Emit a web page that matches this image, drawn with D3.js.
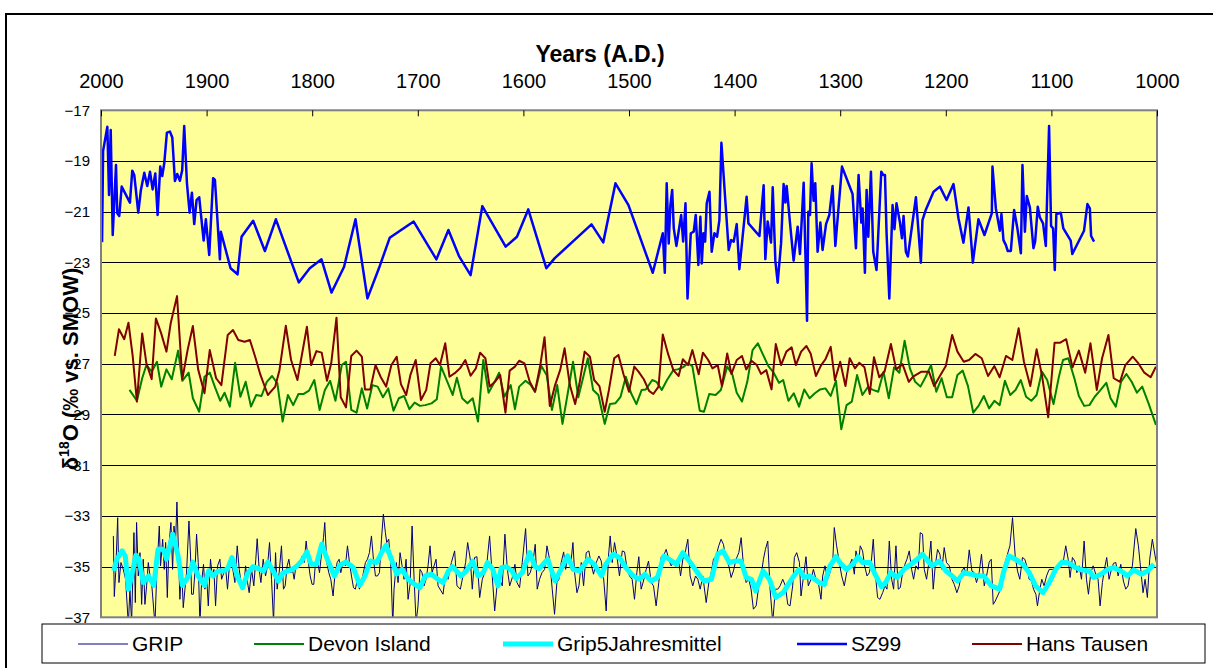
<!DOCTYPE html>
<html>
<head>
<meta charset="utf-8">
<script src="https://d3js.org/d3.v7.min.js"></script>
<style>
  body { margin: 0; background: #fff; }
  svg { font-family: "Liberation Sans", Arial, sans-serif; }
</style>
</head>
<body>
<svg id="chart" width="1213" height="668"></svg>
<script>
// tick labels
const xTickYears = [2000, 1900, 1800, 1700, 1600, 1500, 1400, 1300, 1200, 1100, 1000];
const yTickValues = [-17, -19, -21, -23, -25, -27, -29, -31, -33, -35, -37];
const seriesNames = ["GRIP", "Devon Island", "Grip5Jahresmittel", "SZ99", "Hans Tausen"];

// [year, d18O]
const grip = [
  [1988.3,-33.79],[1987.4,-36.18],[1986.1,-35.24],[1984.2,-33.07],[1983,-35.63],[1981.1,-34.84],[1978.9,-35.11],[1976.7,-35.5],
  [1974.1,-37.3],[1972.6,-35.89],[1971,-37.2],[1968.8,-33.66],[1967.5,-36.42],[1966.3,-33.26],[1964.7,-35.37],[1963.1,-34.45],
  [1961.5,-36.49],[1960,-34.71],[1958.4,-36.49],[1956.8,-35.76],[1955.2,-34.84],[1953.6,-35.37],[1952.1,-35.63],[1948.9,-37.3],
  [1947.3,-35.37],[1944.8,-33.4],[1943.6,-34.97],[1941.6,-33.92],[1940.1,-35.11],[1938.8,-34.05],[1937.2,-36.22],[1935.7,-34.18],
  [1933.8,-33.26],[1932.2,-35.11],[1930.9,-33.4],[1929.4,-34.05],[1928.1,-32.45],[1926.8,-34.18],[1925.3,-36.29],[1923.7,-34.97],
  [1922.1,-36.62],[1920.5,-35.89],[1919,-35.24],[1916.7,-33.2],[1915.2,-34.58],[1914.2,-36.09],[1912.6,-36.09],[1911.1,-35.24],
  [1909.5,-33.72],[1907.9,-34.84],[1906.3,-37.3],[1904.8,-35.63],[1902.9,-34.91],[1901.6,-35.89],[1900,-35.37],[1898.4,-36.55],
  [1896.3,-34.71],[1894.7,-35.37],[1893.1,-35.11],[1891.5,-36.55],[1889.6,-34.97],[1887.4,-34.71],[1885.8,-35.5],[1883.6,-35.24],
  [1882,-35.04],[1880.2,-35.89],[1877.9,-34.71],[1875.7,-34.97],[1873.2,-35.63],[1871,-34.18],[1869.1,-35.11],[1866.9,-35.76],
  [1865,-35.89],[1863.1,-34.97],[1861.2,-35.63],[1859.7,-36.03],[1857.4,-35.11],[1855.3,-35.76],[1853.4,-34.71],[1852.1,-33.9],
  [1850.2,-35.11],[1848.6,-35.63],[1846.4,-34.71],[1844.2,-35.37],[1842.3,-34.97],[1840.4,-34.05],[1838.5,-35.5],[1836.6,-37.2],
  [1834.7,-34.45],[1833.2,-35.89],[1831.3,-35.24],[1829.1,-34.18],[1827.2,-35.89],[1825.6,-35.76],[1823.7,-34.97],[1822.1,-34.71],
  [1820.2,-35.24],[1818.7,-35.11],[1817.1,-35.5],[1815.2,-34.91],[1813.3,-34.97],[1811.4,-34.84],[1809.5,-34.58],[1807.6,-34.84],
  [1805.7,-33.99],[1803.8,-34.78],[1801.9,-35.37],[1800.1,-35.7],[1798.5,-35.7],[1796.9,-34.84],[1795,-34.78],[1793.1,-35.24],
  [1791.2,-34.51],[1789.3,-33.86],[1788.1,-33.26],[1786.2,-34.84],[1784.3,-35.24],[1782.4,-35.5],[1780.2,-36.16],[1778.6,-35.37],
  [1776.4,-34.84],[1774.5,-34.71],[1772.9,-35.24],[1770.7,-34.78],[1768.5,-34.97],[1766.6,-34.18],[1764.7,-34.84],[1762.8,-35.37],
  [1760.9,-35.83],[1759.1,-35.89],[1757.2,-35.5],[1755.3,-35.89],[1753.4,-35.63],[1751.5,-35.24],[1749.6,-34.84],[1747.7,-34.71],
  [1745.8,-34.45],[1743.9,-33.79],[1742,-34.71],[1740.1,-35.37],[1738.2,-35.37],[1736.3,-35.24],[1734.4,-33.92],[1732.6,-32.93],
  [1730.7,-33.66],[1729.4,-34.05],[1727.5,-33.92],[1725.6,-34.91],[1723.7,-37.3],[1722.5,-35.89],[1720.3,-34.84],[1718.7,-35.63],
  [1716.8,-34.45],[1714.9,-34.97],[1713,-35.5],[1711.1,-34.71],[1709.2,-36.29],[1707.3,-35.7],[1705.4,-33.4],[1703.5,-35.5],
  [1701.6,-37.2],[1699.8,-36.55],[1697.9,-35.11],[1696,-35.24],[1694.1,-35.76],[1692.2,-35.5],[1690.3,-34.97],[1688.4,-34.18],
  [1686.5,-35.24],[1684.6,-34.97],[1682.7,-34.71],[1680.8,-35.76],
  [1676.1,-36.09],[1673.6,-35.24],[1671.4,-35.5],[1668.2,-34.84],[1665.1,-34.38],[1662.9,-35.76],[1659.7,-35.89],[1657.2,-35.37],
  [1654.7,-34.84],[1652.8,-34.05],[1650.3,-34.71],[1648.4,-35.89],[1646.2,-34.64],[1644,-34.61],[1641.4,-36.22],[1638.9,-35.5],
  [1636.7,-35.24],[1634.5,-34.84],[1632,-33.79],[1629.4,-35.43],[1627.2,-36.75],[1625,-35.76],[1622.5,-35.5],[1620,-35.76],
  [1617.5,-33.72],[1615.2,-35.11],[1613,-35.76],[1610.5,-35.43],[1608,-34.91],[1606.1,-35.63],[1603.6,-35.83],[1601.1,-34.84],
  [1597.9,-33.5],[1595.7,-35.37],[1593.5,-35.24],[1591,-34.84],[1588.8,-34.12],[1586.9,-35.89],[1584.7,-35.5],[1582.4,-35.24],
  [1579.9,-35.11],[1577.7,-34.18],[1575.2,-34.71],[1572.7,-35.89],[1570.5,-36.88],[1568.3,-35.63],[1566.4,-35.5],[1564.2,-34.84],
  [1561.9,-34.42],[1560,-35.11],[1557.8,-34.51],[1555.3,-34.97],[1553.1,-34.05],[1551.5,-35.24],[1549.3,-36.03],[1547.4,-35.76],
  [1545.2,-34.84],[1543,-35.76],[1540.5,-34.45],[1538,-34.38],[1535.8,-34.91],[1533.6,-35.3],[1531,-34.84],[1528.5,-34.58],
  [1526.3,-34.78],[1524.1,-35.43],[1521.6,-36.75],[1519.4,-34.58],[1517.8,-33.79],[1515.9,-34.84],[1513.7,-34.05],[1511.5,-34.58],
  [1509,-35.37],[1506.4,-34.38],[1504.2,-34.42],[1502,-35.04],[1499.5,-35.37],[1497,-35.5],[1494.8,-36.29],[1492.6,-35.24],
  [1490.7,-34.61],[1488.5,-35.89],[1486.3,-35.57],[1483.7,-35.11],[1481.5,-34.78],[1479,-35.63],[1476.8,-35.76],[1474.3,-36.55],
  [1471.8,-35.63],[1469.5,-34.61],[1467.3,-34.58],[1464.8,-34.32],[1462.3,-34.71],[1460.1,-34.97],[1457.9,-34.84],[1455.3,-35],
  [1453.1,-34.74],[1451.2,-35.37],[1449,-34.71],[1446.5,-34.38],[1444.3,-33.92],[1442.1,-35.37],[1439.6,-35.76],[1437,-35.37],
  [1434.8,-35.5],[1432.6,-35.89],[1430.1,-35.37],[1426.9,-36.42],[1424.4,-35.63],[1422.2,-35.24],[1420,-34.71],[1417.5,-34.58],
  [1415,-34.18],[1412.8,-33.92],[1410.6,-34.12],[1408,-34.71],[1405.5,-34.97],[1403.3,-35.43],[1401.1,-35.17],[1398.6,-34.71],
  [1396,-34.45],[1393.8,-33.86],[1391.6,-34.97],[1389.1,-35.63],[1386.6,-35.5],[1384.4,-35.89],[1382.2,-36.68],[1379.6,-36.55],
  [1377.1,-35.76],[1374.9,-35.37],[1372.7,-34.71],[1370.8,-34.32],[1368.6,-33.99],[1366.4,-35.89],[1363.9,-37.2],[1361.4,-35.89],
  [1359.1,-35.89],[1356.9,-35.76],[1354.4,-35.5],[1351.9,-35.76],[1349.7,-36.49],[1347.5,-36.55],[1345,-35.76],[1343.4,-34.64],
  [1341.2,-34.45],[1338.6,-34.84],
  [1337.1,-36.16],[1334.9,-35.43],[1332.4,-34.61],[1330.2,-35.76],[1327.6,-35.5],[1325.4,-35.11],[1322.9,-35.5],[1320.7,-35.63],
  [1318.2,-36.29],[1316.6,-35.37],[1314.4,-34.97],[1311.9,-35.5],[1309.7,-35.24],[1307.1,-34.84],[1305.6,-33.46],[1303.4,-34.18],
  [1300.8,-34.84],[1298.6,-35.37],[1296.1,-35.76],[1293.9,-35.24],[1291.4,-34.97],[1288.9,-34.71],[1286.6,-35.3],[1285.1,-34.38],
  [1282.5,-34.78],[1281,-34.18],[1278.8,-34.38],[1276.9,-34.97],[1274.6,-35.37],[1272.4,-35.24],[1270.6,-34.84],[1268.7,-33.92],
  [1266.8,-35.24],[1264.6,-36.22],[1262.4,-36.29],[1259.8,-36.03],[1257.6,-35.76],[1255.7,-35.89],[1253.5,-33.99],[1251.3,-35.5],
  [1249.4,-35.89],[1247.2,-34.18],[1245,-35.89],[1243.1,-35.83],[1240.9,-35.24],[1238.7,-34.91],[1236.8,-34.71],[1234.6,-34.38],
  [1232.4,-35.11],[1230.5,-35.5],[1228.3,-34.97],[1226.1,-35.11],[1224.2,-33.66],[1222,-33.72],[1220.4,-35.11],[1218.2,-35.5],
  [1216.3,-34.91],[1214.1,-33.99],[1211.9,-35.89],[1210,-34.97],[1207.8,-34.32],[1205.6,-34.51],[1203.7,-35.11],[1201.5,-34.25],
  [1199.3,-34.84],[1196.7,-34.97],[1194.2,-35.5],[1192,-35.7],[1189.5,-36.03],[1187.3,-35.76],[1184.8,-35.17],[1182.6,-35.04],
  [1180.3,-35.37],[1177.8,-34.34],[1175.3,-35.17],[1173.1,-35.24],[1170.9,-35.63],[1168.4,-35.24],[1166.2,-34.51],[1163.6,-35.76],
  [1161.4,-35.37],[1158.9,-34.82],[1157,-34.71],[1155.1,-36.49],[1153.2,-36.36],[1151,-36.16],[1148.8,-35.96],[1146.3,-35.37],
  [1143.8,-34.84],[1141.6,-34.51],[1139.3,-34.18],[1136.8,-33.07],[1134.3,-34.58],[1132.1,-35.17],[1129.9,-35.5],[1127.4,-34.64],
  [1125.2,-34.71],[1123.3,-34.97],[1121.1,-35.5],[1118.8,-35.57],[1116.9,-35.89],[1114.7,-36.09],[1113.2,-36.55],[1110.9,-35.89],
  [1109.1,-35.5],[1106.9,-35.76],[1104.6,-35.37],[1102.1,-35.11],[1099,-35.11],[1095.8,-35.04],[1093.3,-35],[1091.1,-35],
  [1088.9,-34.84],[1086.4,-34.18],[1084.1,-34.71],[1082.3,-35.43],[1080.1,-34.64],[1077.8,-34.78],[1075.9,-35.24],[1073.7,-34.97],
  [1071.5,-35.5],[1069,-33.99],[1066.8,-35.5],[1064.9,-36.09],[1062.7,-35.24],[1060.5,-34.97],[1058,-35.3],[1055.8,-35.5],
  [1053.9,-36.55],[1051.7,-35.63],[1049.5,-35.04],[1047.6,-34.64],[1045.4,-35.5],[1043.2,-35.11],[1041.2,-34.87],[1039,-34.84],
  [1036.8,-35.37],[1034.3,-34.91],[1031.8,-35.57],[1029.6,-35.89],[1027.4,-35.76],[1025.5,-35.24],[1023.3,-34.97],[1020.1,-33.5],
  [1017.6,-34.18],[1015.4,-35.11],[1013.2,-36.03],[1011.3,-35.5],[1009.1,-36.22],[1006.9,-34.71],[1004.4,-33.92],[1001.8,-34.58],
  [1000.3,-34.9]
];

const devonIsland = [
  [1973,-28.03],[1966,-28.46],[1961,-27.57],[1957,-27.05],[1952,-27.31],[1947,-26.92],[1943,-27.9],[1938,-27.22],[1933,-27.61],[1927,-26.48],
  [1923,-27.67],[1917,-27.35],[1913,-28.36],[1907,-28.89],[1902,-27.51],[1897,-27.35],[1892,-27.93],[1887,-28.46],[1883,-28.14],[1878,-28.69],
  [1873,-26.96],[1868,-28.3],[1863,-27.71],[1858,-28.69],[1853,-28.23],[1848,-28.27],[1843,-27.71],[1838,-27.48],[1833,-27.77],[1828,-29.28],
  [1823,-28.23],[1818,-28.63],[1813,-28.19],[1808,-28.19],[1803,-28.06],[1798,-27.64],[1793,-28.82],[1788,-28.03],[1783,-27.67],[1778,-28.46],
  [1772,-27.05],[1768,-26.92],[1763,-28.82],[1758,-28.93],[1753,-27.97],[1748,-28.76],[1743,-27.84],[1738,-27.9],[1733,-28.32],[1728,-27.97],
  [1723,-28.85],[1718,-28.36],[1713,-28.27],[1708,-28.79],[1703,-28.53],[1698,-28.66],[1693,-28.63],[1687,-28.56],[1682,-28.4],[1678,-27.11],
  [1672,-27.71],[1667,-28.23],[1663,-27.55],[1658,-28.36],[1653,-28.56],[1648,-28.36],[1643,-29.28],[1638,-26.85],[1633,-28.14],[1628,-27.77],
  [1623,-27.35],[1618,-28.3],[1612,-27.84],[1608,-28.79],[1604,-27.9],[1598,-27.67],[1593,-27.84],[1589,-28.1],[1583,-27.09],[1578,-27.44],
  [1573,-28.82],[1568,-27.84],[1563,-29.37],[1558,-28.16],[1553,-26.92],[1548,-28.32],[1544,-27.64],[1539,-26.78],[1534,-28.03],[1529,-28.23],
  [1523,-29.37],[1518,-28.59],[1513,-28.56],[1508,-28.3],[1503,-27.51],[1498,-28.16],[1493,-28.59],[1488,-28.03],[1484,-28.01],[1478,-27.64],
  [1474,-27.71],[1469,-28.03],[1464,-27.64],[1458,-27.25],[1454,-27.22],[1449,-27.14],[1444,-26.98],[1440,-27.09],[1433,-28.85],[1429,-28.89],
  [1424,-28.19],[1418,-28.23],[1413,-28.03],[1407,-27.11],[1402,-27.44],[1398,-28.14],[1393,-28.49],[1388,-27.71],[1383,-26.46],[1378,-26.19],
  [1373,-26.65],[1368,-27.09],[1363,-27.35],[1358,-27.75],[1354,-27.64],[1349,-28.46],[1344,-28.16],[1339,-28.69],[1334,-28.01],[1329,-28.36],
  [1324,-28.16],[1319,-28.01],[1314,-27.97],[1309,-28.27],[1304,-27.67],[1299,-29.58],[1294,-28.63],[1289,-28.49],[1284,-27.44],[1279,-28.23],
  [1274,-27.93],[1269,-28.03],[1264,-28.1],[1259,-27.31],[1254,-28.36],[1249,-27.14],[1244,-27.35],[1239,-26.09],[1234,-27.18],[1229,-27.71],
  [1224,-27.9],[1219,-27.51],[1214,-27.05],[1209,-28.1],[1204,-27.57],[1199,-28.32],[1194,-28.32],[1189,-27.44],[1184,-27.27],[1179,-27.88],
  [1174,-28.93],[1169,-28.66],[1164,-28.27],[1159,-28.76],[1154,-28.46],[1149,-28.63],[1144,-27.67],[1139,-28.23],[1134,-28.03],[1129,-27.64],
  [1124,-28.3],[1119,-28.46],[1114,-28.23],[1109,-27.31],[1104,-27.64],[1098,-28.59],[1093,-27.53],[1089,-26.85],[1084,-26.78],[1078,-27.61],
  [1074,-28.27],[1069,-28.66],[1064,-28.63],[1059,-28.3],[1054,-28.06],[1048,-27.75],[1044,-28.36],[1039,-28.69],[1034,-27.71],[1029,-27.4],
  [1024,-27.71],[1019,-28.14],[1014,-27.9],[1008,-28.56],[1001,-29.41]
];

const gripMean = [
  [1988,-35.17],[1985,-34.71],[1980,-34.38],[1977,-34.58],[1974,-35.89],[1971,-35.37],[1967,-34.55],[1964,-34.71],[1960,-35.63],[1955,-35.37],
  [1950,-35.74],[1946,-34.32],[1941,-34.32],[1938,-34.71],[1932,-33.72],[1927,-34.58],[1923,-35.74],[1917,-35.37],[1913,-34.82],[1908,-35.37],
  [1902,-35.74],[1898,-35.17],[1894,-35.37],[1889,-35.17],[1884,-35.17],[1880,-35.08],[1876,-34.64],[1871,-35.37],[1866,-35.83],[1861,-35.26],
  [1856,-35],[1851,-35.08],[1846,-35.17],[1842,-34.82],[1837,-35.17],[1832,-35.57],[1828,-35.26],[1823,-35.17],[1819,-35.11],[1815,-35],
  [1810,-34.78],[1805,-34.42],[1801,-34.91],[1796,-34.91],[1791,-34.12],[1785,-34.78],[1779,-35.37],[1774,-34.95],[1768,-34.82],[1761,-35.04],
  [1755,-35.74],[1750,-35.37],[1745,-34.78],[1739,-34.84],[1734,-34.42],[1730,-34.16],[1725,-34.71],[1720,-35.3],[1715,-35.11],[1709,-35.5],
  [1703,-35.7],[1698,-35.83],[1693,-35.37],[1687,-35.3],[1681,-35.5],[1676,-35.63],[1671,-35.17],[1667,-35],[1659,-35.37],[1654,-35.17],
  [1648,-34.78],[1643,-35.37],[1638,-35.24],[1634,-34.84],[1629,-35.11],[1624,-35.76],[1621,-35.04],[1616,-35],[1611,-35.17],[1607,-35.47],
  [1601,-35.24],[1594,-34.45],[1589,-35],[1585,-35.08],[1577,-34.71],[1570,-35.57],[1566,-35.24],[1558,-34.58],[1553,-35.11],[1547,-35.17],
  [1542,-34.91],[1539,-34.71],[1533,-34.91],[1526,-35.37],[1522,-34.91],[1515,-34.51],[1509,-34.64],[1503,-35.04],[1496,-35.37],[1490,-35.5],
  [1485,-35.3],[1479,-35.57],[1473,-35.43],[1467,-34.58],[1462,-34.71],[1455,-34.91],[1449,-34.45],[1443,-34.78],[1435,-35.24],[1429,-35.57],
  [1422,-35.5],[1416,-34.51],[1411,-34.38],[1405,-34.84],[1399,-34.78],[1394,-34.78],[1389,-35.43],[1384,-35.5],[1380,-35.96],[1373,-35.17],
  [1367,-35.5],[1361,-36.22],[1354,-36.03],[1350,-35.76],[1345,-35.43],[1339,-35.11],[1334,-35.43],[1329,-35.37],[1324,-35.5],[1320,-35.63],
  [1315,-35.7],[1310,-35],[1304,-34.61],[1299,-34.91],[1294,-35.11],[1288,-34.91],[1283,-34.61],[1279,-34.84],[1272,-34.84],[1267,-35.3],
  [1261,-35.79],[1257,-35.63],[1252,-35.24],[1246,-35.43],[1239,-35.08],[1233,-34.91],[1227,-34.71],[1222,-34.51],[1217,-34.78],[1213,-34.97],
  [1206,-34.78],[1200,-35.17],[1194,-35.37],[1189,-35.57],[1183,-35.24],[1176,-35.3],[1170,-35.37],[1164,-35.37],[1157,-35.76],[1149,-35.89],
  [1145,-35.17],[1140,-34.58],[1134,-34.71],[1127,-34.91],[1121,-35.24],[1115,-35.76],[1108,-36.03],[1102,-35.63],[1096,-35.11],[1090,-34.82],
  [1083,-34.87],[1077,-35.04],[1071,-35.13],[1064,-35.17],[1060,-35.43],[1053,-35.3],[1047,-35.11],[1041,-35.04],[1034,-35.17],[1028,-35.37],
  [1022,-35.13],[1015,-35.3],[1009,-35.17],[1003,-34.91]
];

const sz99 = [
  [1999,-22.2],[1998,-18.6],[1994,-17.65],[1992.4,-20.34],[1990.8,-17.78],[1988.9,-21.92],[1985.8,-19.16],[1984.6,-21.06],[1982.7,-21.17],[1980.4,-20.01],
  [1972.6,-20.64],[1970.4,-19.38],[1968.5,-19.55],[1964.7,-21.04],[1962.2,-20.14],[1959,-19.46],[1956.2,-19.99],[1953.6,-19.42],[1951.1,-20.12],[1948.6,-19.49],
  [1946.4,-21.13],[1943.9,-19.22],[1942,-19.59],[1940.1,-19.09],[1937.6,-17.88],[1934.7,-17.84],[1932.5,-18.07],[1930,-19.79],[1927.8,-19.51],[1925.3,-19.78],
  [1923.1,-19.36],[1921.2,-17.62],[1918.6,-19.88],[1916.1,-21.04],[1913.9,-20.25],[1911.7,-21.49],[1909.5,-20.54],[1907,-20.43],[1902.8,-22.14],[1900.7,-21.3],
  [1897.5,-22.71],[1893.8,-19.68],[1892.1,-19.75],[1887.4,-22.88],[1886.5,-21.79],[1877.3,-23.23],[1870.7,-23.47],[1866.9,-21.99],[1855.9,-21.36],[1844.8,-22.55],
  [1834.4,-21.3],[1812.7,-23.79],[1802.3,-23.23],[1791.2,-22.88],[1781.7,-24.19],[1769.8,-23.17],[1759,-21.3],[1747.7,-24.42],[1736,-23.14],[1726.6,-22.03],
  [1703.9,-21.39],[1682.4,-22.88],[1671,-21.72],[1661,-22.75],[1650,-23.5],[1638.9,-20.78],[1616.8,-22.38],[1606.1,-21.99],[1595.4,-20.91],[1578.3,-23.23],
  [1570.5,-22.84],[1535.5,-21.5],[1524.4,-22.21],[1512.8,-19.88],[1500.5,-20.74],[1477.5,-23.41],[1468,-21.85],[1466.1,-23.41],[1464.3,-19.88],[1462.4,-22.25],
  [1460.8,-20.74],[1459.1,-20.14],[1457.6,-21.66],[1455.1,-22.35],[1450.6,-21.13],[1448.7,-22.18],[1446.5,-20.67],[1444.6,-24.42],[1441.5,-21.85],[1438.7,-21.79],
  [1436.8,-21.13],[1434.3,-23.1],[1432.4,-21.2],[1431.1,-23.04],[1429.5,-21.85],[1427.9,-22.18],[1426.4,-20.67],[1423.8,-20.21],[1421.7,-22.58],[1419.1,-21.85],
  [1416.6,-21.99],[1414.4,-21.33],[1412.5,-18.28],[1405.6,-22.51],[1403.3,-22.12],[1400.8,-22.18],[1398,-21.49],[1395.5,-23.27],[1388.6,-20.41],[1386.9,-21.46],
  [1376.5,-21.96],[1372.5,-19.96],[1370.9,-22.87],[1368.7,-21.39],[1365.5,-22.22],[1363.9,-20.04],[1361.4,-22.94],[1359.2,-23.8],[1356,-22.25],[1353.6,-19.91],
  [1351.9,-20.64],[1350.7,-19.99],[1347.5,-21.46],[1344.1,-22.93],[1340.3,-21.59],[1338.1,-22.67],[1334.6,-19.86],[1331.4,-25.3],[1330.2,-21],[1328.6,-21.13],
  [1327.1,-19.09],[1325.2,-20.57],[1323.6,-19.88],[1321.4,-22.58],[1318.8,-21.43],[1316.7,-22.51],[1313.4,-21.49],[1310.3,-21.13],[1307.2,-19.99],[1304.6,-22.35],
  [1298.3,-19.22],[1288.3,-20.3],[1285.1,-22.44],[1282.6,-19.55],[1280,-21.43],[1278.8,-20.87],[1276.6,-23.41],[1275,-20.14],[1273.4,-21.99],[1270.9,-19.42],
  [1268.7,-22.58],[1265.6,-23.3],[1261.1,-19.42],[1259.3,-19.55],[1257.6,-19.55],[1256.1,-21.83],[1253.5,-24.42],[1250.4,-20.74],[1248.6,-21.69],[1246.7,-20.67],
  [1243.4,-21.43],[1241.5,-22.05],[1240,-21.17],[1237.8,-22.58],[1235.9,-22.77],[1228.3,-20.43],[1223.6,-23.01],[1222.1,-21.33],[1218.8,-20.91],[1211.6,-20.21],
  [1205.6,-20.01],[1199.3,-20.54],[1192.7,-19.91],[1188,-21.26],[1183.3,-22.22],[1178.5,-20.83],[1174.4,-23.01],[1169.1,-21.3],[1163.4,-21.92],[1156.4,-21.06],
  [1155.8,-19.22],[1152.6,-20.87],[1148.8,-21.75],[1147.3,-21.09],[1145.4,-22.12],[1143.1,-22.32],[1141.3,-22.55],[1138.4,-22.55],[1135.3,-20.93],[1132.2,-21.66],
  [1128.9,-22.64],[1127.4,-19.16],[1125.1,-21.79],[1123.3,-20.38],[1120.4,-20.83],[1117,-22.44],[1115.4,-22.18],[1112.9,-20.8],[1111,-21.22],[1107.9,-21.46],
  [1105.3,-22.35],[1102.2,-17.62],[1100.3,-21.56],[1098.4,-21.66],[1096.8,-23.3],[1095.3,-21.09],[1091.1,-21.04],[1088.7,-21.66],[1081.7,-22.14],[1080.2,-22.67],
  [1069.1,-21.75],[1065.9,-20.7],[1063.6,-20.87],[1062.4,-21.96],[1059.6,-22.18]
];

const hansTausen = [
  [1987,-26.69],[1983,-25.64],[1978,-26.03],[1974,-25.38],[1970,-26.69],[1966,-28.49],[1961,-25.8],[1957,-26.98],[1952,-27.61],[1948,-25.21],
  [1943,-25.8],[1938,-26.52],[1934,-25.4],[1928,-24.33],[1923,-27.61],[1918,-26.46],[1913,-25.51],[1908,-27.22],[1902,-28.16],[1897,-26.46],
  [1891,-27.57],[1886,-27.84],[1880,-25.86],[1875,-25.67],[1870,-26.06],[1864,-26.13],[1859,-26.06],[1854,-26.72],[1849,-27.44],[1842,-28.23],
  [1835,-27.9],[1831,-27.25],[1825,-25.5],[1820,-26.85],[1814,-27.64],[1805,-25.54],[1801,-27.05],[1796,-26.5],[1791,-26.56],[1786,-27.67],
  [1782,-26.98],[1777,-25.18],[1773,-28.32],[1768,-28.72],[1763,-26.69],[1758,-26.48],[1753,-26.72],[1750,-28.01],[1745,-28.01],[1740,-27.05],
  [1735,-27.53],[1730,-27.9],[1725,-27.05],[1720,-26.72],[1716,-27.8],[1711,-28.23],[1707,-27.44],[1702,-26.85],[1697,-28.43],[1692,-28.03],
  [1688,-26.98],[1683,-26.78],[1679,-27.05],[1674,-26.19],[1670,-27.51],[1665,-27.37],[1660,-27.18],[1655,-26.85],[1650,-27.47],[1645,-27.18],
  [1641,-26.56],[1636,-26.78],[1632,-27.9],[1627,-27.71],[1622,-27.44],[1617,-28.93],[1613,-27.27],[1608,-27.11],[1604,-26.88],[1599,-26.98],
  [1594,-27.71],[1589,-28.1],[1584,-27.05],[1580,-25.95],[1575,-28.66],[1570,-27.84],[1565,-27.22],[1561,-26.39],[1556,-27.84],[1551,-28.59],
  [1547,-27.8],[1542,-26.52],[1537,-26.72],[1533,-27.64],[1528,-27.88],[1523,-28.89],[1519,-28.03],[1514,-26.78],[1510,-26.65],[1505,-27.44],
  [1500,-28.1],[1495,-27.11],[1491,-27.31],[1486,-27.61],[1481,-28.07],[1477,-28.19],[1472,-27.9],[1468,-25.84],[1463,-26.61],[1458,-27.25],
  [1453,-27.48],[1449,-26.82],[1444,-27.05],[1440,-26.46],[1434,-27.41],[1430,-26.56],[1425,-26.85],[1421,-27.18],[1416,-27.05],[1412,-27.88],
  [1407,-26.59],[1403,-27.4],[1398,-26.85],[1393,-26.69],[1389,-27.22],[1384,-26.88],[1379,-27.05],[1375,-27.4],[1370,-27.25],[1365,-28.01],
  [1361,-26.22],[1356,-27.05],[1351,-26.52],[1346,-26.35],[1342,-27.05],[1337,-26.52],[1332,-26.3],[1328,-26.59],[1323,-27.48],[1318,-27.05],
  [1314,-26.82],[1309,-26.33],[1305,-27.64],[1300,-26.92],[1295,-27.88],[1291,-26.78],[1286,-27.18],[1282,-26.96],[1277,-27.14],[1272,-28.19],
  [1268,-26.74],[1263,-27.53],[1258,-27.31],[1252,-26.22],[1247,-27.22],[1241,-27.01],[1235,-27.71],[1231,-27.51],[1223,-27.31],[1216,-27.31],
  [1211,-27.88],[1206,-27.51],[1200,-27.09],[1194,-25.86],[1189,-26.52],[1183,-26.92],[1178,-26.85],[1172,-26.61],[1166,-26.78],[1160,-27.48],
  [1154,-27.09],[1149,-27.53],[1143,-26.69],[1137,-26.85],[1131,-25.6],[1126,-26.92],[1120,-27.88],[1114,-26.43],[1109,-27.44],[1103,-29.11],
  [1097,-26.17],[1092,-26.17],[1086,-26.03],[1080,-27.14],[1074,-26.48],[1068,-27.35],[1063,-26.19],[1057,-28.03],[1052,-26.78],[1046,-25.86],
  [1041,-27.57],[1035,-27.71],[1030,-27.05],[1023,-26.72],[1018,-26.96],[1012,-27.35],[1006,-27.53],[1001,-27.11]
];

const seriesData = [grip, devonIsland, gripMean, sz99, hansTausen];

// styling, kept apart from the data
const seriesColors = ["#000080", "#008000", "#00FFFF", "#0000FF", "#800000"];
const seriesWidths = [1, 2, 5, 2.5, 2];
const legendLineX = [78, 254, 503, 797, 972];

const svg = d3.select("#chart");
const plot = {left: 101, right: 1157, top: 110.3, bottom: 617.3};

const x = d3.scaleLinear().domain([2000, 1000]).range([plot.left, plot.right]);
const y = d3.scaleLinear().domain([-17, -37]).range([plot.top, plot.bottom]);

// outer chart frame
svg.append("rect")
  .attr("x", 6).attr("y", 14)
  .attr("width", 1400).attr("height", 900)
  .attr("fill", "none").attr("stroke", "#000").attr("stroke-width", 2);

// plot area
svg.append("rect")
  .attr("x", plot.left).attr("y", plot.top)
  .attr("width", plot.right - plot.left).attr("height", plot.bottom - plot.top)
  .attr("fill", "#FFFF99");

svg.append("clipPath").attr("id", "plotClip")
  .append("rect")
  .attr("x", plot.left).attr("y", plot.top)
  .attr("width", plot.right - plot.left).attr("height", plot.bottom - plot.top);

// gridlines
svg.append("g")
  .selectAll("line")
  .data(yTickValues.slice(1, -1))
  .enter().append("line")
  .attr("x1", plot.left).attr("x2", plot.right)
  .attr("y1", d => Math.round(y(d)) + 0.5).attr("y2", d => Math.round(y(d)) + 0.5)
  .attr("stroke", "#000").attr("stroke-width", 1);

// series
const line = d3.line()
  .x(d => x(d[0]))
  .y(d => y(d[1]));

svg.append("g")
  .attr("clip-path", "url(#plotClip)")
  .selectAll("path")
  .data(seriesData)
  .enter().append("path")
  .attr("d", line)
  .attr("fill", "none")
  .attr("stroke", (d, i) => seriesColors[i])
  .attr("stroke-width", (d, i) => seriesWidths[i])
  .attr("stroke-linejoin", "round");

// plot border
svg.append("rect")
  .attr("x", plot.left).attr("y", plot.top)
  .attr("width", plot.right - plot.left).attr("height", plot.bottom - plot.top)
  .attr("fill", "none").attr("stroke", "#808080").attr("stroke-width", 2);

// top axis, ticks pointing into the plot
const xAxis = svg.append("g")
  .attr("transform", `translate(0,${plot.top})`)
  .call(d3.axisTop(x).tickValues(xTickYears).tickFormat(d3.format("d"))
    .tickSizeInner(-6).tickSizeOuter(0).tickPadding(22.8));
xAxis.select(".domain").remove();
xAxis.selectAll(".tick line").attr("stroke", "#000");
xAxis.selectAll("text")
  .attr("font-size", 20)
  .attr("font-family", "Liberation Sans, Arial, sans-serif")
  .attr("fill", "#000");

// left axis labels
const yAxis = svg.append("g")
  .attr("transform", `translate(${plot.left},0)`)
  .call(d3.axisLeft(y).tickValues(yTickValues).tickSize(0).tickPadding(11));
yAxis.select(".domain").remove();
yAxis.selectAll("text")
  .attr("font-size", 15)
  .attr("font-family", "Liberation Sans, Arial, sans-serif")
  .attr("fill", "#000");

// axis titles
svg.append("text")
  .attr("x", 600).attr("y", 62)
  .attr("text-anchor", "middle")
  .attr("font-size", 23).attr("font-weight", "bold")
  .text("Years (A.D.)");

const yTitle = svg.append("text")
  .attr("transform", "translate(78,369) rotate(-90)")
  .attr("text-anchor", "middle")
  .attr("font-size", 22).attr("font-weight", "bold");
yTitle.append("tspan").text("δ");
yTitle.append("tspan").attr("font-size", 14).attr("dy", -9).text("18");
yTitle.append("tspan").attr("dy", 9).text("O (‰ vs. SMOW)");

// legend
const legend = svg.append("g");
legend.append("rect")
  .attr("x", 42).attr("y", 624)
  .attr("width", 1163).attr("height", 39)
  .attr("fill", "#fff").attr("stroke", "#000").attr("stroke-width", 1);

const items = legend.selectAll(".item")
  .data(seriesNames)
  .enter().append("g")
  .attr("class", "item")
  .attr("transform", (d, i) => `translate(${legendLineX[i]},644)`);

items.append("line")
  .attr("x1", 0).attr("x2", 50)
  .attr("stroke", (d, i) => seriesColors[i])
  .attr("stroke-width", (d, i) => seriesWidths[i]);

items.append("text")
  .attr("x", 54).attr("y", 7)
  .attr("font-size", 21)
  .text(d => d);
</script>
</body>
</html>
